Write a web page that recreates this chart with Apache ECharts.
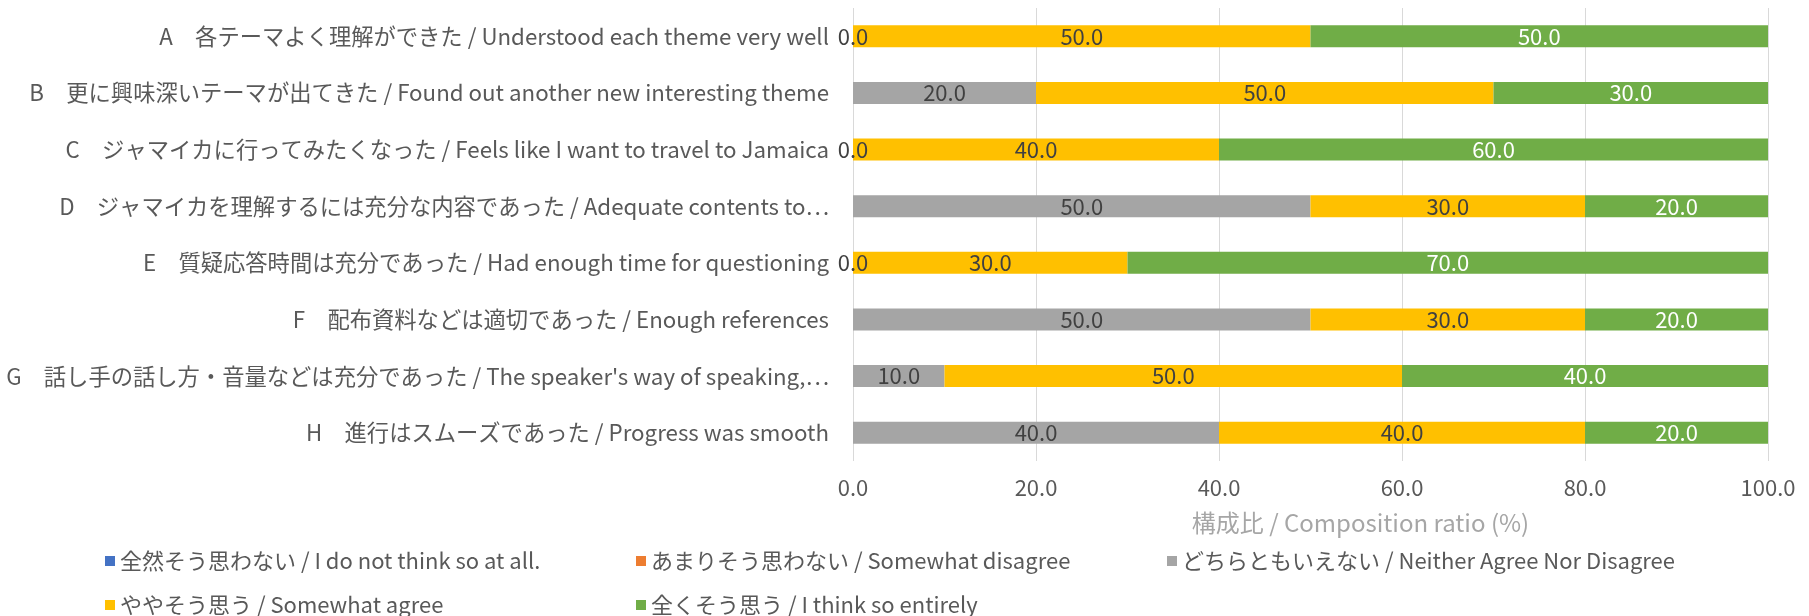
<!DOCTYPE html>
<html>
<head>
<meta charset="utf-8">
<script src="https://cdn.jsdelivr.net/npm/echarts@6/dist/echarts.min.js"></script>
<style>
  html, body { margin: 0; padding: 0; background: #fff; }
  #chart { width: 1809px; height: 616px; }
</style>
</head>
<body>
<div id="chart"></div>
<script>
var categories = [
  'A　各テーマよく理解ができた / Understood each theme very well',
  'B　更に興味深いテーマが出てきた / Found out another new interesting theme',
  'C　ジャマイカに行ってみたくなった / Feels like I want to travel to Jamaica',
  'D　ジャマイカを理解するには充分な内容であった / Adequate contents to…',
  'E　質疑応答時間は充分であった / Had enough time for questioning',
  'F　配布資料などは適切であった / Enough references',
  'G　話し手の話し方・音量などは充分であった / The speaker\'s way of speaking,…',
  'H　進行はスムーズであった / Progress was smooth'
];
var seriesNames = [
  '全然そう思わない / I do not think so at all.',
  'あまりそう思わない / Somewhat disagree',
  'どちらともいえない / Neither Agree Nor Disagree',
  'ややそう思う / Somewhat agree',
  '全くそう思う / I think so entirely'
];
var notAtAll = [0, 0, 0, 0, 0, 0, 0, 0];
var disagree = [0, 0, 0, 0, 0, 0, 0, 0];
var neither = [0, 20, 0, 50, 0, 50, 10, 40];
var somewhat = [50, 50, 40, 30, 30, 30, 50, 40];
var entirely = [50, 30, 60, 20, 70, 20, 40, 20];
var xTicks = [0, 20, 40, 60, 80, 100];

var colors = ['#4472C4', '#ED7D31', '#A5A5A5', '#FFC000', '#70AD47'];
var FONT = '"Noto Sans CJK JP", "Noto Sans", sans-serif';

var chart = echarts.init(document.getElementById('chart'));

function bar(i, data, labelShow, labelColor) {
  return {
    name: seriesNames[i],
    type: 'bar',
    stack: 'total',
    barWidth: 22,
    data: data,
    itemStyle: { color: colors[i] },
    label: {
      show: labelShow,
      position: 'inside',
      color: labelColor,
      fontFamily: FONT,
      fontSize: 22,
      formatter: function (p) { return p.value.toFixed(1); }
    }
  };
}

// legend slots laid out like the original (3 per row)
var legendSlots = [[100, 545], [631, 545], [1162, 545], [100, 589], [631, 589]];
var legends = seriesNames.map(function (n, i) {
  return {
    data: [n],
    left: legendSlots[i][0],
    top: legendSlots[i][1],
    itemWidth: 10,
    itemHeight: 10,
    icon: 'rect',
    itemGap: 0,
    textStyle: { color: '#595959', fontFamily: FONT, fontSize: 22 }
  };
});

var option = {
  animation: false,
  backgroundColor: '#fff',
  color: colors,
  grid: { left: 853, right: 41, top: 8, bottom: 155, containLabel: false },
  legend: legends,
  xAxis: {
    type: 'value',
    min: xTicks[0],
    max: xTicks[xTicks.length - 1],
    interval: 20,
    name: '構成比 / Composition ratio (%)',
    nameLocation: 'middle',
    nameGap: 50,
    nameTextStyle: { color: '#a6a6a6', fontFamily: FONT, fontSize: 24, padding: [0, 0, 0, 100] },
    axisLine: { show: false },
    axisTick: { show: false },
    splitLine: { lineStyle: { color: '#d9d9d9', width: 1 } },
    axisLabel: {
      color: '#595959',
      fontFamily: FONT,
      fontSize: 22,
      margin: 16,
      formatter: function (v) { return v.toFixed(1); }
    }
  },
  yAxis: {
    type: 'category',
    inverse: true,
    data: categories,
    axisLine: { show: false },
    axisTick: { show: false },
    axisLabel: { color: '#595959', fontFamily: FONT, fontSize: 22.3, margin: 24 }
  },
  series: [
    bar(0, notAtAll, false, '#404040'),
    bar(1, disagree, false, '#404040'),
    bar(2, neither, true, '#404040'),
    bar(3, somewhat, true, '#404040'),
    bar(4, entirely, true, '#ffffff')
  ]
};

chart.setOption(option);
</script>
</body>
</html>
